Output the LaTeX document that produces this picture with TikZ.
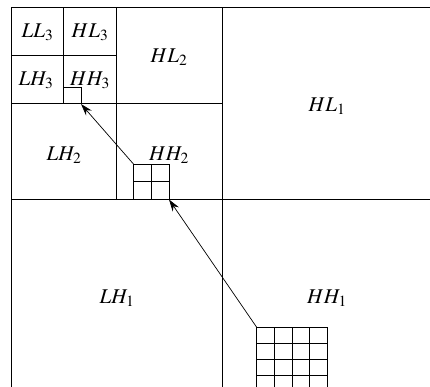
\documentclass[tikz,border=0pt]{standalone}
\usepackage{mathptmx}
\usetikzlibrary{arrows.meta}
\begin{document}
\begin{tikzpicture}[x=1pt,y=-1pt,>={Stealth[length=12pt,width=7.5pt]},line width=1pt,
	band/.style={font=\fontsize{21}{24}\selectfont,inner sep=0pt},
	cell/.style={line width=1pt}]
	\useasboundingbox (0,0) rectangle (430,387);
	% levels 1, 2, 3
	\draw (11,8) rectangle (433,392);
	\draw (222,8) -- (222,392) (11,199.5) -- (433,199.5);
	\draw (116,8) -- (116,199.5) (11,104) -- (222,104);
	\draw (63,8) -- (63,104) (11,56) -- (116,56);

	% sub-band labels
	\node[band] (LL3) at (37.5,32) {$LL_3$};
	\node[band] (HL3) at (90,32) {$HL_3$};
	\node[band] (LH3) at (36,80) {$LH_3$};
	\node[band] (HH3) at (90,80) {$HH_3$};
	\node[band] (HL2) at (169,57) {$HL_2$};
	\node[band] (LH2) at (64,155) {$LH_2$};
	\node[band] (HH2) at (169,155) {$HH_2$};
	\node[band] (HL1) at (327,106) {$HL_1$};
	\node[band] (LH1) at (117,298) {$LH_1$};
	\node[band] (HH1) at (327,298) {$HH_1$};

	% coefficient blocks
	\draw[cell] (63.5,88) rectangle (81,104);
	\foreach \i in {0,1,2}
		\draw[cell] (133.7+17.65*\i,164.3) -- (133.7+17.65*\i,199.5)
			(133.7,164.3+17.6*\i) -- (169,164.3+17.6*\i);
	\foreach \i in {0,...,4}
		\draw[cell] (256.7+17.65*\i,327.3) -- (256.7+17.65*\i,392)
			(256.7,327.3+16.17*\i) -- (327.3,327.3+16.17*\i);

	\coordinate (b3br) at (81,104);
	\coordinate (b2tl) at (133.7,164.3);
	\coordinate (b2br) at (169,199.5);
	\coordinate (b1tl) at (256.7,327.3);

	\draw[->,line width=0.7pt] (b1tl) -- (b2br);
	\draw[->,line width=0.7pt] (b2tl) -- (b3br);
\end{tikzpicture}
\end{document}
